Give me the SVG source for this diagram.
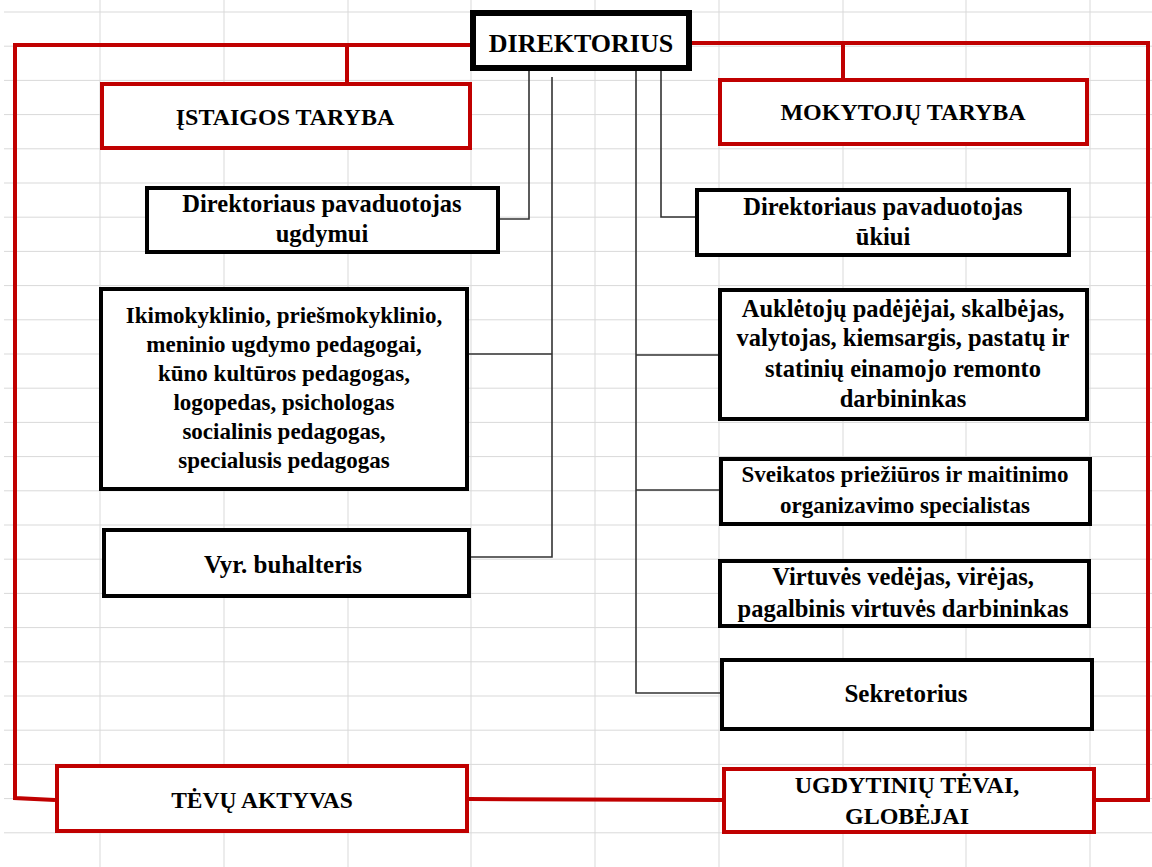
<svg xmlns="http://www.w3.org/2000/svg" width="1152" height="867" viewBox="0 0 1152 867">
<style>
.grid line{stroke:#d9d9d9;stroke-width:1}
.rb{fill:#fff;stroke:#c00000;stroke-width:4}
.bb{fill:#fff;stroke:#000;stroke-width:4}
.rc{fill:none;stroke:#c00000;stroke-width:4}
.bc{fill:none;stroke:#333;stroke-width:1.6}
text{font-family:"Liberation Serif","Times New Roman",serif;font-weight:bold;fill:#000;text-anchor:middle}
</style>
<rect width="1152" height="867" fill="#fff"/>
<g class="grid">
<line x1="100" y1="0" x2="100" y2="867"/><line x1="224" y1="0" x2="224" y2="867"/><line x1="348" y1="0" x2="348" y2="867"/><line x1="471" y1="0" x2="471" y2="867"/><line x1="595" y1="0" x2="595" y2="867"/><line x1="719" y1="0" x2="719" y2="867"/><line x1="843" y1="0" x2="843" y2="867"/><line x1="966" y1="0" x2="966" y2="867"/><line x1="1090" y1="0" x2="1090" y2="867"/>
<line x1="4" y1="12" x2="1152" y2="12"/><line x1="4" y1="46.2" x2="1152" y2="46.2"/><line x1="4" y1="80.4" x2="1152" y2="80.4"/><line x1="4" y1="114.6" x2="1152" y2="114.6"/><line x1="4" y1="148.8" x2="1152" y2="148.8"/><line x1="4" y1="183" x2="1152" y2="183"/><line x1="4" y1="217.2" x2="1152" y2="217.2"/><line x1="4" y1="251.4" x2="1152" y2="251.4"/><line x1="4" y1="285.6" x2="1152" y2="285.6"/><line x1="4" y1="319.8" x2="1152" y2="319.8"/><line x1="4" y1="354" x2="1152" y2="354"/><line x1="4" y1="388.2" x2="1152" y2="388.2"/><line x1="4" y1="422.4" x2="1152" y2="422.4"/><line x1="4" y1="456.6" x2="1152" y2="456.6"/><line x1="4" y1="490.8" x2="1152" y2="490.8"/><line x1="4" y1="525" x2="1152" y2="525"/><line x1="4" y1="559.2" x2="1152" y2="559.2"/><line x1="4" y1="593.4" x2="1152" y2="593.4"/><line x1="4" y1="627.6" x2="1152" y2="627.6"/><line x1="4" y1="661.8" x2="1152" y2="661.8"/><line x1="4" y1="696" x2="1152" y2="696"/><line x1="4" y1="730.2" x2="1152" y2="730.2"/><line x1="4" y1="764.4" x2="1152" y2="764.4"/><line x1="4" y1="798.6" x2="1152" y2="798.6"/><line x1="4" y1="832.8" x2="1152" y2="832.8"/>
</g>
<g id="connectors">
<polyline class="rc" points="470,45 15,45 15,798 55,800"/>
<line class="rc" x1="347" y1="45" x2="347" y2="82"/>
<polyline class="rc" points="692,43 1148,43 1148,800 1096,800"/>
<line class="rc" x1="843" y1="43" x2="843" y2="78"/>
<line class="rc" x1="469" y1="799" x2="722" y2="800"/>
<polyline class="bc" points="529,71 529,219 500,219"/>
<polyline class="bc" points="552,77 552,557 471,557"/>
<line class="bc" x1="469" y1="354" x2="552" y2="354"/>
<polyline class="bc" points="636,71 636,693 720,693"/>
<line class="bc" x1="636" y1="355" x2="718" y2="355"/>
<line class="bc" x1="636" y1="490" x2="719" y2="490"/>
<polyline class="bc" points="661,71 661,217 695,217"/>
</g>
<g id="direktorius"><rect x="473" y="13" width="216" height="55" fill="#fff" stroke="#000" stroke-width="6"/><text x="581" y="52" font-size="26">DIREKTORIUS</text></g>
<g id="istaigos-taryba"><rect class="rb" x="102" y="84" width="368" height="64"/><text x="285" y="125" font-size="24">ĮSTAIGOS TARYBA</text></g>
<g id="mokytoju-taryba"><rect class="rb" x="720" y="80" width="367" height="64"/><text x="903" y="120" font-size="24">MOKYTOJŲ TARYBA</text></g>
<g id="pav-ugdymui"><rect class="bb" x="147" y="188" width="351" height="64"/><text x="322" y="212" font-size="24.5">Direktoriaus pavaduotojas</text><text x="322" y="242" font-size="24.5">ugdymui</text></g>
<g id="pav-ukiui"><rect class="bb" x="697" y="190" width="372" height="65"/><text x="883" y="215" font-size="24.5">Direktoriaus pavaduotojas</text><text x="883" y="245" font-size="24.5">ūkiui</text></g>
<g id="pedagogai"><rect class="bb" x="101" y="289" width="366" height="200"/>
<text font-size="23"><tspan x="284" y="323">Ikimokyklinio, priešmokyklinio,</tspan><tspan x="284" y="352">meninio ugdymo pedagogai,</tspan><tspan x="284" y="381">kūno kultūros pedagogas,</tspan><tspan x="284" y="410">logopedas, psichologas</tspan><tspan x="284" y="439">socialinis pedagogas,</tspan><tspan x="284" y="468">specialusis pedagogas</tspan></text></g>
<g id="buhalteris"><rect class="bb" x="104" y="530" width="365" height="66"/><text x="283" y="573" font-size="25">Vyr. buhalteris</text></g>
<g id="aukletoju"><rect class="bb" x="720" y="290" width="367" height="129"/>
<text font-size="24.5"><tspan x="903" y="317">Auklėtojų padėjėjai, skalbėjas,</tspan><tspan x="903" y="346">valytojas, kiemsargis, pastatų ir</tspan><tspan x="903" y="377">statinių einamojo remonto</tspan><tspan x="903" y="407">darbininkas</tspan></text></g>
<g id="sveikatos"><rect class="bb" x="721" y="459" width="369" height="65"/>
<text font-size="23"><tspan x="905" y="482">Sveikatos priežiūros ir maitinimo</tspan><tspan x="905" y="513">organizavimo specialistas</tspan></text></g>
<g id="virtuves"><rect class="bb" x="720" y="561" width="369" height="65"/>
<text font-size="24.5"><tspan x="903" y="585">Virtuvės vedėjas, virėjas,</tspan><tspan x="903" y="617">pagalbinis virtuvės darbininkas</tspan></text></g>
<g id="sekretorius"><rect class="bb" x="722" y="660" width="370" height="69"/><text x="906" y="702" font-size="25">Sekretorius</text></g>
<g id="tevu-aktyvas"><rect class="rb" x="57" y="766" width="410" height="65"/><text x="262" y="808" font-size="23.5">TĖVŲ AKTYVAS</text></g>
<g id="ugdytiniu-tevai"><rect class="rb" x="724" y="769" width="370" height="63"/>
<text font-size="24"><tspan x="907" y="793">UGDYTINIŲ TĖVAI,</tspan><tspan x="907" y="824">GLOBĖJAI</tspan></text></g>
</svg>
